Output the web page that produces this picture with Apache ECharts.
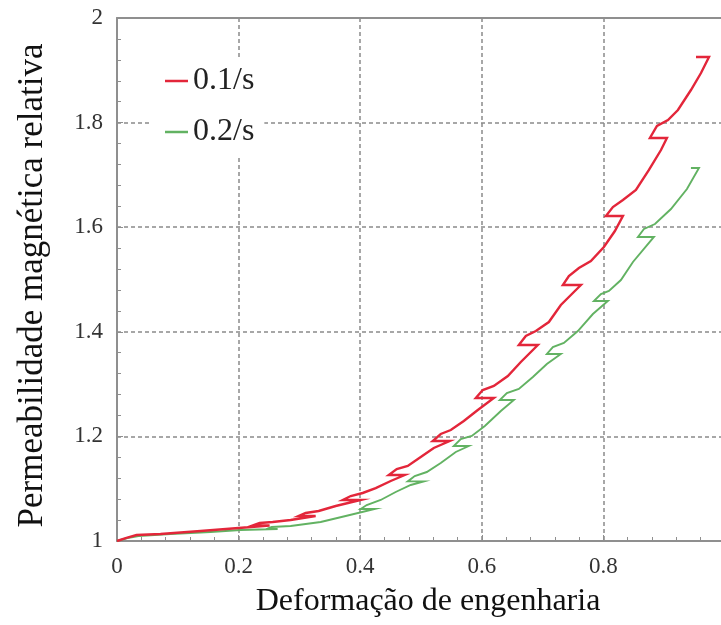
<!DOCTYPE html>
<html>
<head>
<meta charset="utf-8">
<script src="https://cdn.jsdelivr.net/npm/echarts@6/dist/echarts.min.js"></script>
<style>
  html, body { margin: 0; padding: 0; background: #fff; }
  #chart { width: 721px; height: 625px; }
</style>
</head>
<body>
<div id="chart"></div>
<script>
// Relative magnetic permeability vs engineering strain, two strain rates.
// Each unload/reload step shows as a short backward (leftward) stroke.

const seriesNames = ['0.1/s', '0.2/s'];

// 0.1/s
const strainA = [
  0, 0.0156, 0.0321, 0.0716, 0.1374, 0.2, 0.251,
  0.223, 0.2346, 0.256, 0.2856, 0.3267,
  0.2988, 0.3103, 0.3317, 0.3597, 0.4008,
  0.3712, 0.3844, 0.4041, 0.4255, 0.4502, 0.4733,
  0.4469, 0.4601, 0.4782, 0.4996, 0.521, 0.5473,
  0.5193, 0.5325, 0.549, 0.5704, 0.5934, 0.6198,
  0.5901, 0.6016, 0.6198, 0.6428, 0.6642, 0.6922,
  0.6609, 0.6724, 0.6889, 0.7103, 0.73, 0.7465, 0.763,
  0.7333, 0.7432, 0.7597, 0.7794, 0.8008, 0.8189, 0.8321,
  0.8041, 0.8156, 0.8321, 0.8535, 0.8749, 0.8947, 0.9045,
  0.8765, 0.8881, 0.9062, 0.9226, 0.944, 0.9605, 0.9737,
  0.9523
];
const permA = [
  1, 1.006, 1.0115, 1.0134, 1.0191, 1.0249, 1.0296,
  1.0296, 1.0344, 1.0363, 1.0402, 1.0478,
  1.0478, 1.0535, 1.0574, 1.0669, 1.0784,
  1.0784, 1.086, 1.0918, 1.1013, 1.1147, 1.1262,
  1.1262, 1.1377, 1.1434, 1.1606, 1.1778, 1.1912,
  1.1912, 1.2046, 1.2122, 1.2294, 1.2505, 1.2734,
  1.2734, 1.2887, 1.2964, 1.3155, 1.3423, 1.3748,
  1.3748, 1.392, 1.4015, 1.4187, 1.4512, 1.4704, 1.4895,
  1.4895, 1.5067, 1.522, 1.5354, 1.5621, 1.5927, 1.6214,
  1.6214, 1.6386, 1.652, 1.6711, 1.7094, 1.7476, 1.7706,
  1.7706, 1.7935, 1.805, 1.8241, 1.8623, 1.8948, 1.9254,
  1.9254
];

// 0.2/s
const strainB = [
  0, 0.0173, 0.0354, 0.0881, 0.1539, 0.2033, 0.2642,
  0.2461, 0.2543, 0.2856, 0.335, 0.3761, 0.4239,
  0.4008, 0.4107, 0.4337, 0.4584, 0.4831, 0.5045,
  0.4782, 0.4897, 0.5095, 0.5325, 0.5572, 0.5786,
  0.5539, 0.5654, 0.5835, 0.605, 0.6313, 0.6527,
  0.6296, 0.6412, 0.6609, 0.684, 0.707, 0.73,
  0.707, 0.7169, 0.735, 0.758, 0.7827, 0.8074,
  0.7844, 0.7959, 0.8091, 0.8288, 0.8486, 0.8831,
  0.8568, 0.8667, 0.8848, 0.9111, 0.9374, 0.9572,
  0.944
];
const permB = [
  1, 1.0057, 1.0096, 1.0134, 1.0172, 1.021, 1.0229,
  1.0229, 1.0268, 1.0287, 1.0363, 1.0478, 1.0612,
  1.0612, 1.0688, 1.0784, 1.0937, 1.1071, 1.114,
  1.114, 1.1243, 1.1319, 1.1491, 1.1702, 1.1816,
  1.1816, 1.195, 1.2008, 1.2199, 1.2486, 1.2696,
  1.2696, 1.283, 1.2906, 1.3136, 1.3384, 1.3576,
  1.3576, 1.3709, 1.3786, 1.4015, 1.434, 1.4589,
  1.4589, 1.4723, 1.478, 1.499, 1.5335, 1.5813,
  1.5813, 1.5966, 1.6061, 1.6348, 1.673, 1.7132,
  1.7132
];

const xMin = 0, xMax = 1, xStep = 0.2;
const yMin = 1, yMax = 2, yStep = 0.2;

const xTitle = 'Deformação de engenharia';
const yTitle = 'Permeabilidade magnética relativa';

const pairs = (xs, ys) => xs.map((x, i) => [x, ys[i]]);

const serif = "'Liberation Serif', 'Times New Roman', serif";
const axisGray = '#8f8f8f';
const gridGray = '#8a8a8a';

const chart = echarts.init(document.getElementById('chart'), null, { renderer: 'canvas' });

chart.setOption({
  animation: false,
  backgroundColor: '#ffffff',
  textStyle: { fontFamily: serif },
  grid: { left: 117, right: -4, top: 18, bottom: 84, outerBoundsMode: 'none', containLabel: false },
  legend: {
    data: seriesNames,
    orient: 'vertical',
    left: 152,
    top: 57,
    padding: [6, 10, 6, 13],
    itemGap: 15,
    itemWidth: 23,
    itemHeight: 2.5,
    icon: 'rect',
    backgroundColor: '#ffffff',
    textStyle: { fontFamily: serif, fontSize: 32, color: '#222', lineHeight: 36 }
  },
  xAxis: [
    {
      type: 'value', min: xMin, max: xMax, interval: xStep,
      position: 'bottom',
      name: xTitle, nameLocation: 'middle', nameGap: 45,
      nameTextStyle: { fontFamily: serif, fontSize: 32, color: '#111', padding: [0, 0, 0, 14] },
      axisLine: { show: true, onZero: false, lineStyle: { color: axisGray, width: 2 } },
      axisTick: { show: true, inside: true, length: 6 },
      minorTick: { show: true, splitNumber: 5, length: 4 },
      axisLabel: { fontFamily: serif, fontSize: 23, color: '#333', margin: 14, showMaxLabel: true, hideOverlap: false },
      splitLine: { show: true, lineStyle: { color: gridGray, width: 1.5, type: [4, 3] } }
    },
    {
      type: 'value', min: xMin, max: xMax, interval: xStep,
      position: 'top',
      axisLine: { show: true, onZero: false, lineStyle: { color: axisGray, width: 2 } },
      axisTick: { show: false },
      axisLabel: { show: false },
      splitLine: { show: false }
    }
  ],
  yAxis: [
    {
      type: 'value', min: yMin, max: yMax, interval: yStep,
      position: 'left',
      name: yTitle, nameLocation: 'middle', nameGap: 67, nameRotate: 90,
      nameTextStyle: { fontFamily: serif, fontSize: 35, color: '#111', padding: [0, 12, 0, 0] },
      axisLine: { show: true, onZero: false, lineStyle: { color: axisGray, width: 2 } },
      axisTick: { show: true, inside: true, length: 6 },
      minorTick: { show: true, splitNumber: 5, length: 4 },
      axisLabel: { fontFamily: serif, fontSize: 23, color: '#333', margin: 14 },
      splitLine: { show: true, lineStyle: { color: gridGray, width: 1.5, type: [4, 3] } }
    }
  ],
  series: [
    {
      name: seriesNames[0], type: 'line', xAxisIndex: 0, yAxisIndex: 0,
      data: pairs(strainA, permA),
      showSymbol: false, symbol: 'none', smooth: false,
      color: '#e3263a',
      lineStyle: { color: '#e3263a', width: 2.4, join: 'miter' },
      z: 4
    },
    {
      name: seriesNames[1], type: 'line', xAxisIndex: 0, yAxisIndex: 0,
      data: pairs(strainB, permB),
      showSymbol: false, symbol: 'none', smooth: false,
      color: '#62b262',
      lineStyle: { color: '#62b262', width: 1.9, join: 'miter' },
      z: 3
    }
  ]
});
</script>
</body>
</html>
